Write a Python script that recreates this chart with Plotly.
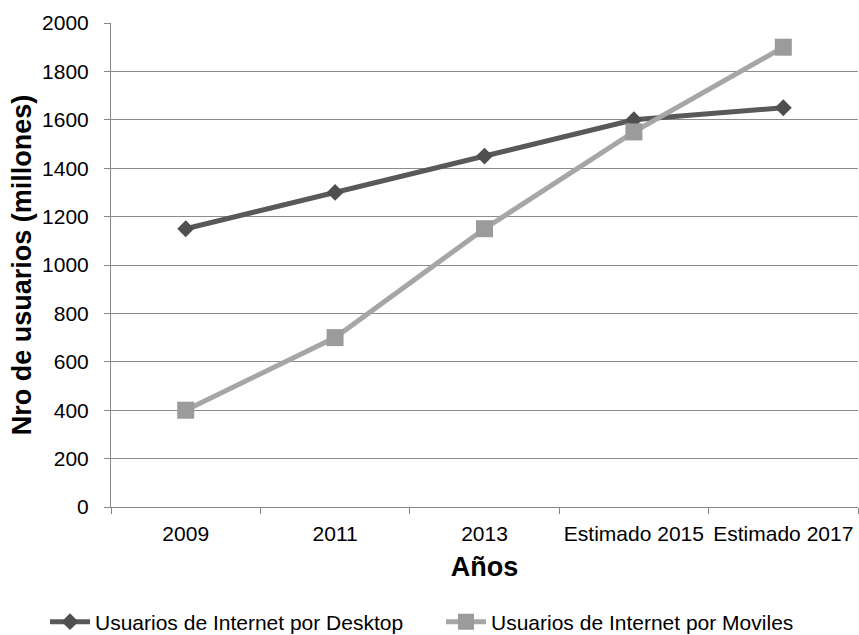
import plotly.graph_objects as go

categories = ["2009", "2011", "2013", "Estimado 2015", "Estimado 2017"]
desktop = [1150, 1300, 1450, 1600, 1650]
moviles = [400, 700, 1150, 1550, 1900]
y_ticks = [0, 200, 400, 600, 800, 1000, 1200, 1400, 1600, 1800, 2000]

FONT = "Liberation Sans, Arial, sans-serif"

fig = go.Figure()
fig.add_trace(go.Scatter(
    x=categories, y=desktop, name="Usuarios de Internet por Desktop",
    mode="lines+markers", legend="legend",
    line=dict(color="#595959", width=5),
    marker=dict(symbol="diamond", size=13, color="#4f4f4f"),
))
fig.add_trace(go.Scatter(
    x=categories, y=moviles, name="Usuarios de Internet por Moviles",
    mode="lines+markers", legend="legend2",
    line=dict(color="#a6a6a6", width=5),
    marker=dict(symbol="square", size=17, color="#9b9b9b"),
))

legend_common = dict(
    orientation="h", xref="container", yref="container",
    xanchor="left", yanchor="middle", y=1 - 622 / 635,
    font=dict(size=21), itemwidth=40, bgcolor="rgba(0,0,0,0)",
)

fig.update_layout(
    width=859, height=635,
    margin=dict(l=111, r=1, t=23, b=128, autoexpand=False),
    paper_bgcolor="white", plot_bgcolor="white",
    font=dict(family=FONT, size=21, color="#000000"),
    showlegend=True,
    legend=dict(x=45 / 859, **legend_common),
    legend2=dict(x=441 / 859, **legend_common),
    xaxis=dict(
        type="category", range=[-0.5, 4.5], automargin=False,
        showgrid=False, showline=True, linecolor="#868686", linewidth=1,
        ticks="outside", tickson="boundaries", ticklen=6, tickcolor="#868686",
        tickfont=dict(size=21), tickangle=0, ticklabelstandoff=8,
        title=dict(text="<b>Años</b>", font=dict(size=27), standoff=12),
    ),
    yaxis=dict(
        range=[0, 2000], tickvals=y_ticks, automargin=False,
        showgrid=True, gridcolor="#8c8c8c", gridwidth=1,
        showline=True, linecolor="#868686", linewidth=1,
        ticks="outside", ticklen=6, tickcolor="#868686",
        tickfont=dict(size=21), ticklabelstandoff=11,
        zeroline=False,
        title=dict(text="<b>Nro de usuarios (millones)</b>", font=dict(size=27), standoff=2),
    ),
)

fig.write_html("out.html")
